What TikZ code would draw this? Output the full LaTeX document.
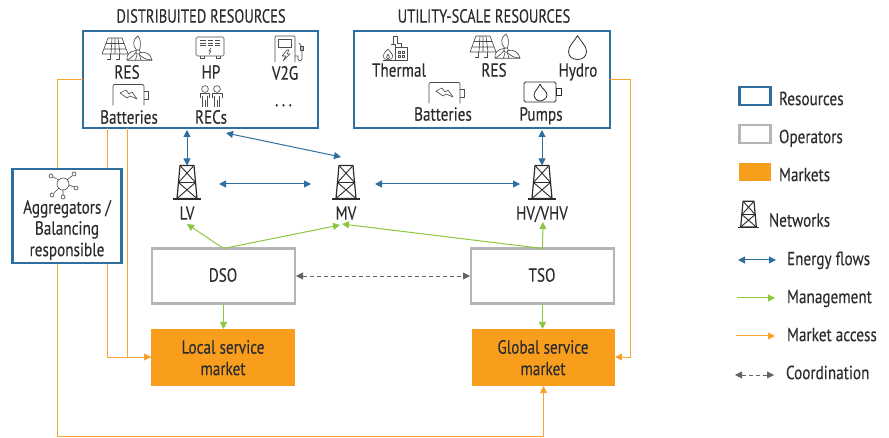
\documentclass[tikz,border=0pt]{standalone}
\usepackage{fontspec}
\setmainfont[FakeStretch=0.80,FakeBold=0.15]{PT Sans}
\newfontfamily\titlefont[FakeStretch=0.765,FakeBold=0.15]{PT Sans}
\usetikzlibrary{arrows.meta}
\definecolor{resblue}{HTML}{2F6F9F}
\definecolor{opgray}{HTML}{B4B5BA}
\definecolor{mktorange}{HTML}{F99D1C}
\definecolor{accessline}{HTML}{F8A436}
\definecolor{mgmtgreen}{HTML}{8DC63F}
\definecolor{coordgray}{HTML}{636466}
\definecolor{inkdark}{HTML}{2C2C2E}
\tikzset{
  x=1pt,y=-1pt,
  every node/.style={inner sep=0pt,outer sep=0pt},
  lbl/.style={font=\fontsize{19}{21}\selectfont,text=inkdark,text height=13.3pt,text depth=0pt},
  ttl/.style={font=\titlefont\fontsize{19}{21}\selectfont,text=inkdark,text height=13.3pt,text depth=0pt},
  resbox/.style={draw=resblue,line width=2.1pt,fill=white},
  opbox/.style={draw=opgray,line width=2.1pt,fill=white},
  mktbox/.style={fill=mktorange},
  anchorbox/.style={minimum width=30pt,minimum height=34pt},
  energy/.style={draw=resblue,line width=1pt,{Triangle[length=7pt,width=7pt]}-{Triangle[length=7pt,width=7pt]}},
  mgmt/.style={draw=mgmtgreen,line width=1pt,-{Triangle[length=7pt,width=7pt]}},
  access/.style={draw=accessline,line width=1pt},
  accessarrow/.style={access,-{Triangle[length=7pt,width=7pt,fill=mktorange]}},
  coord/.style={draw=coordgray,line width=0.8pt,dash pattern=on 4pt off 3pt,{Triangle[length=7pt,width=7pt]}-{Triangle[length=7pt,width=7pt]}},
  icon/.style={draw=inkdark!85,line width=0.65pt,line join=round},
  tower/.pic={
    \draw[inkdark,line width=1.2pt,line join=round] (-7,-17) -- (7,-17) -- (10,16) -- (-10,16) -- cycle;
    \draw[inkdark,line width=0.9pt] (-7,-17) -- (8.5,0) -- (-10,16) (7,-17) -- (-8.5,0) -- (10,16) (-8.5,0) -- (8.5,0);
    \draw[inkdark,line width=1.1pt] (-14,16.5) -- (14,16.5);
  },
  resicon/.pic={
    \draw[icon] (-19,-10) -- (-5,-10) -- (1,6) -- (-25,6) -- cycle;
    \draw[icon] (-23,1) -- (-1,1) (-21,-4.5) -- (-3,-4.5) (-15,-10) -- (-16,6) (-12,-10) -- (-12,6) (-9,-10) -- (-7,6);
    \draw[icon] (-17,6) -- (-17,11) (-20,11) -- (-16,11) (-8,6) -- (-8,11) (-11,11) -- (-7,11);
    \draw[icon] (11,4) circle (2.2);
    \draw[icon] (9.5,2) .. controls (5,-3) and (6,-9) .. (11,-12) .. controls (14,-8) and (14,-3) .. (12.5,2);
    \draw[icon] (9,4.5) .. controls (6,8) and (3,11) .. (0,12) .. controls (-1,7) and (3,3) .. (9,2.5);
    \draw[icon] (13,4.5) .. controls (19,3) and (24,7) .. (25,12) .. controls (20,12) and (15,10) .. (12,6);
    \draw[icon] (10,6.5) -- (8.5,12) (12.5,7) -- (14,12) (0,12.3) -- (25,12.3);
  },
  batt/.pic={
    \draw[icon] (-16,10.5) -- (-16,-9) .. controls (-16,-10.5) .. (-15,-10.5) -- (14,-10.5) .. controls (15,-10.5) .. (15,-9) -- (15,10.5);
    \draw[icon] (15,-4) -- (19,-4) -- (19,4) -- (15,4);
    \draw[icon] (-9,-2) -- (-3,-5) -- (0,-1) -- (3,-3) -- (8,4) -- (1,1) -- (-2,3) -- cycle;
  },
  hpicon/.pic={
    \draw[icon,rounded corners=1.5pt] (-14,-11) rectangle (14,8);
    \draw[icon] (-10,-7.5) -- (-4,-7.5) (-10,-5) -- (-4,-5) (-10,-2.5) -- (-4,-2.5) (-2,-7.5) -- (3,-7.5) (-2,-5) -- (3,-5) (-2,-2.5) -- (3,-2.5) (5,-7.5) -- (10,-7.5) (5,-5) -- (10,-5) (5,-2.5) -- (10,-2.5);
    \draw[icon] (1,0) -- (-1,3) -- (1,3) -- (-1,6);
    \draw[icon] (-10,8) -- (-10,10) -- (-6,10) -- (-6,8) (6,8) -- (6,10) -- (10,10) -- (10,8);
  },
  vtwog/.pic={
    \draw[icon] (-13,13) -- (-13,-11) .. controls (-13,-13) .. (-11,-13) -- (5,-13) .. controls (7,-13) .. (7,-11) -- (7,13);
    \draw[icon] (-10,-10) rectangle (3,-2);
    \draw[icon] (-1,1) -- (-6,7) -- (-2,7) -- (-5,12) (-1,1) -- (1,1) -- (-1,5) -- (2,5) -- (-5,12);
    \draw[icon] (7,7) -- (10,7) -- (10,10) .. controls (10,12) and (14,12) .. (14,10) -- (14,-2) -- (11,-6);
    \draw[icon] (12,-3) rectangle (15,1);
  },
  people/.pic={
    \draw[icon] (-6,-7) circle (3.4) (6,-7) circle (3.4);
    \draw[icon] (-11,2) -- (-11,-3) -- (-1.5,-3) -- (-1.5,2) (1.5,2) -- (1.5,-3) -- (11,-3) -- (11,2);
    \draw[icon] (-8.5,0) -- (-8.5,11) (-3.5,0) -- (-3.5,11) (3.5,0) -- (3.5,11) (8.5,0) -- (8.5,11) (-6,4) -- (-6,11) (6,4) -- (6,11);
  },
  thermal/.pic={
    \draw[icon] (-2,12) -- (-2,-4) -- (-6,-4) (-2,-1) -- (10,-1) -- (10,12) -- (-14,12);
    \draw[icon] (-4,-4) -- (-4,-12) -- (0,-12) -- (0,-5) -- (4,-5) -- (4,-1);
    \draw[icon] (-9,1) .. controls (-11,4) and (-14,5) .. (-14,8) .. controls (-14,10) and (-12,12) .. (-9,12) .. controls (-6,12) and (-4,10) .. (-4,8) .. controls (-4,5) and (-7,5) .. (-9,1);
    \draw[icon] (-9,6) .. controls (-11,8) and (-11,11) .. (-9,11) .. controls (-7,11) and (-7,8) .. (-9,6);
    \draw[icon] (1,3) rectangle (3,5) (5,3) rectangle (7,5) (1,7) rectangle (3,9) (5,7) rectangle (7,9);
  },
  dropicon/.pic={
    \draw[inkdark,line width=0.8pt] (0,-12) .. controls (-3,-6) and (-9,-2) .. (-9,4) .. controls (-9,9) and (-5,12) .. (0,12) .. controls (5,12) and (9,9) .. (9,4) .. controls (9,-2) and (3,-6) .. (0,-12);
  },
  pumpicon/.pic={
    \draw[inkdark,line width=0.8pt,rounded corners=1.5pt] (-18,-10) rectangle (14,10);
    \draw[inkdark,line width=0.8pt] (14,-4) rectangle (19,3);
    \draw[inkdark,line width=0.8pt] (-2,-8) .. controls (-3,-4) and (-8,-1) .. (-8,3) .. controls (-8,6) and (-5,9) .. (-2,9) .. controls (1,9) and (5,6) .. (5,3) .. controls (5,-1) and (-1,-4) .. (-2,-8);
  },
  hub/.pic={
    \draw[icon] (0,0) circle (6);
    \draw[icon] (-4,-4) -- (-10,-7) (4,-4) -- (9,-8) (6,1) -- (11,3) (-4,4) -- (-9,9) (0,6) -- (0,11);
    \foreach \p in {(-12,-8),(11,-10),(13,4),(-11,11),(0,13)} \draw[icon] \p circle (2);
  }
}
\begin{document}
\begin{tikzpicture}
\useasboundingbox (0,0) rectangle (889,438);

% titles
\node[ttl] (tdist) at (201,16) {DISTRIBUITED RESOURCES};
\node[ttl] (tutil) at (484,16) {UTILITY-SCALE RESOURCES};

% boxes and market access lines
\coordinate (jlow) at (57,436);
\coordinate (jright) at (630,80);
\node[resbox,minimum width=235pt,minimum height=97pt] (dist) at (200.5,79.5) {};
\node[resbox,minimum width=256pt,minimum height=97pt] (util) at (482,79.5) {};
\node[mktbox,minimum width=144pt,minimum height=57pt] (local) at (223,357.5) {};
\node[mktbox,minimum width=143pt,minimum height=57pt] (global) at (543.5,357.5) {};
\draw[accessarrow] (dist.west |- 0,80) -- (57,80) -- (jlow) -- (global.south |- jlow) -- (global.south);
\draw[accessarrow] (util.east |- jright) -- (jright) -- (630,357) -- (global.east |- 0,357);
\draw[access] (107,128) -- (107,357) -- (local.west |- 0,357);
\draw[accessarrow] (127.5,128) -- (127.5,357) -- (local.west |- 0,357);

% aggregator
\node[resbox,minimum width=109pt,minimum height=94pt] (agg) at (67,216) {};
\pic at (63,184) {hub};
\node[lbl] (agg1) at (67,207) {Aggregators /};
\node[lbl] (agg2) at (67,228) {Balancing};
\node[lbl] (agg3) at (67,249.5) {responsible};

% distributed resources content
\pic at (127,48) {resicon};
\node[lbl] (dres) at (127,72) {RES};
\pic at (210,48) {hpicon};
\node[lbl] (dhp) at (211,72) {HP};
\pic at (288,49) {vtwog};
\node[lbl] (dv2g) at (285,73) {V2G};
\pic at (129,95) {batt};
\node[lbl] (dbat) at (129,117) {Batteries};
\pic at (211,96) {people};
\node[lbl] (drec) at (211,117) {RECs};
\node[lbl] (ddots) at (283.5,99.5) {.\hspace{3.5pt}.\hspace{3.5pt}.};

% utility content
\pic at (397,48) {thermal};
\node[lbl] (uth) at (399,70) {Thermal};
\pic at (495,46) {resicon};
\node[lbl] (ures) at (494,70) {RES};
\pic at (577.5,47.5) {dropicon};
\node[lbl] (uhy) at (578,70) {Hydro};
\pic at (445,93) {batt};
\node[lbl] (ubat) at (443,114) {Batteries};
\pic at (542,92) {pumpicon};
\node[lbl] (upu) at (541,114) {Pumps};

% networks
\node[anchorbox] (lv) at (187,182.5) {};
\node[anchorbox] (mv) at (346,182.5) {};
\node[anchorbox] (hv) at (542,182.5) {};
\pic at (lv) {tower};
\pic at (mv) {tower};
\pic at (hv) {tower};
\node[lbl] (lvl) at (187,213) {LV};
\node[lbl] (mvl) at (346,213) {MV};
\node[lbl] (hvl) at (542,213) {HV/VHV};

% operators
\node[opbox,minimum width=143pt,minimum height=55pt] (dso) at (223.5,276) {};
\node[opbox,minimum width=143pt,minimum height=55pt] (tso) at (542.5,276) {};
\node[lbl] (dsol) at (223,275) {DSO};
\node[lbl] (tsol) at (542,275) {TSO};
\node[lbl] (locl) at (223,347) {Local service};
\node[lbl] (locm) at (223,368.5) {market};
\node[lbl] (glol) at (543,347) {Global service};
\node[lbl] (glom) at (543,368.5) {market};

% energy flows
\coordinate (mvin) at (341,157);
\coordinate (distout) at (226,133);
\draw[energy] (dist.south -| lv) ++(0,2) -- (lv.north);
\draw[energy] (distout) -- (mvin);
\draw[energy] (219,184) -- (311,184);
\draw[energy] (375,184) -- (520,184);
\draw[energy] (util.south -| hv) ++(0,2) -- (hv.north);

% management
\coordinate (lvin) at (187,224);
\coordinate (mvinl) at (340,225);
\coordinate (mvinr) at (342,224);
\coordinate (hvin) at (543,222);
\draw[mgmt] (dso.north) -- (lvin);
\draw[mgmt] (dso.north) -- (mvinl);
\draw[mgmt] (tso.north) -- (mvinr);
\draw[mgmt] (tso.north) -- (hvin);
\draw[mgmt] (dso.south) -- (local.north -| dso.south);
\draw[mgmt] (tso.south) -- (global.north -| tso.south);

% coordination
\draw[coord] (dso.east) ++(1,0) -- ([xshift=-1pt]tso.west);

% legend
\node[resbox,minimum width=31pt,minimum height=18pt] (lgres) at (755,96) {};
\node[lbl,anchor=west] (lgrest) at (779,98.5) {Resources};
\node[opbox,minimum width=31pt,minimum height=18pt] (lgop) at (755,134) {};
\node[lbl,anchor=west] (lgopt) at (779,136.5) {Operators};
\node[mktbox,minimum width=32pt,minimum height=18pt] (lgmk) at (755,172) {};
\node[lbl,anchor=west] (lgmkt) at (779,174.5) {Markets};
\node[minimum width=22pt,minimum height=27pt] (lgnet) at (748.5,214.5) {};
\pic[scale=0.78] at (lgnet) {tower};
\node[lbl,anchor=west] (lgnett) at (769,220) {Networks};
\coordinate (e1) at (738,260); \coordinate (e2) at (776,260);
\draw[energy] (e1) -- (e2);
\node[lbl,anchor=west] (lgen) at (787,258.5) {Energy flows};
\coordinate (m1) at (737,298); \coordinate (m2) at (775,298);
\draw[mgmt] (m1) -- (m2);
\node[lbl,anchor=west] (lgmg) at (787,296.5) {Management};
\coordinate (a1) at (736,336); \coordinate (a2) at (775,336);
\draw[accessarrow] (a1) -- (a2);
\node[lbl,anchor=west] (lgac) at (787,334.5) {Market access};
\coordinate (c1) at (735,375); \coordinate (c2) at (774,375);
\draw[coord] (c1) -- (c2);
\node[lbl,anchor=west] (lgco) at (786,372.5) {Coordination};
\end{tikzpicture}
\end{document}
